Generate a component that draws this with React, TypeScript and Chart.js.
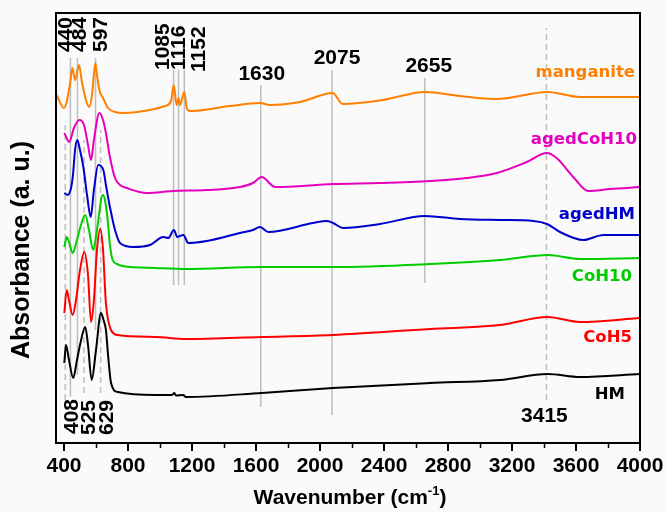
import React, { useEffect, useRef } from 'react';
import { Chart, registerables } from 'chart.js';

Chart.register(...registerables);

// ---------- axis ----------
const X_MIN = 350;
const X_MAX = 4000;
const X_MAJOR_TICKS = [400, 800, 1200, 1600, 2000, 2400, 2800, 3200, 3600, 4000];
const X_MINOR_TICKS = [600, 1000, 1400, 1800, 2200, 2600, 3000, 3400, 3800];
const Y_MIN = 0;
const Y_MAX = 430;

// ---------- spectra (wavenumber, stacked absorbance in arbitrary units) ----------
const manganiteWn = [354, 400, 437, 452, 469, 494, 512, 537, 558, 575, 596, 606, 621, 644, 675, 719, 769, 937, 1031, 1069, 1086, 1104, 1116, 1125, 1152, 1167, 1187, 1437, 1625, 1687, 1875, 2079, 2142, 2394, 2656, 2875, 3104, 3423, 3625, 4000];
const manganiteAbs = [348, 335, 358, 375, 363, 378, 361, 343, 336, 348, 380, 368, 353, 345, 335, 331, 330, 333, 337, 342, 358, 338, 345, 338, 351, 335, 332, 337, 340, 338, 341, 350, 339, 343, 351, 347, 344, 351, 346, 346];

const agedCoH10Wn = [402, 433, 462, 496, 525, 550, 569, 587, 621, 644, 662, 687, 719, 750, 792, 917, 1081, 1292, 1500, 1581, 1636, 1719, 2081, 2375, 2687, 2917, 3104, 3292, 3417, 3479, 3583, 3677, 3812, 4000];
const agedCoH10Abs = [310, 301, 315, 323, 318, 298, 283, 303, 330, 323, 310, 286, 265, 258, 255, 250, 252, 253, 256, 260, 266, 256, 259, 260, 262, 265, 270, 281, 290, 285, 266, 252, 254, 256];

const agedHMWn = [402, 423, 444, 456, 469, 483, 500, 521, 544, 567, 587, 614, 646, 662, 687, 719, 750, 833, 937, 1021, 1052, 1087, 1108, 1125, 1146, 1177, 1292, 1500, 1581, 1625, 1677, 1956, 2042, 2081, 2146, 2375, 2656, 2875, 3125, 3333, 3419, 3500, 3646, 3771, 4000];
const agedHMAbs = [250, 248, 255, 268, 293, 303, 293, 276, 248, 226, 253, 278, 273, 258, 236, 213, 200, 196, 198, 206, 205, 213, 206, 207, 208, 200, 202, 210, 213, 216, 211, 220, 222, 220, 215, 219, 227, 224, 223, 222, 219, 211, 203, 208, 208];

const coH10Wn = [402, 417, 431, 454, 481, 506, 533, 556, 583, 606, 642, 656, 673, 687, 704, 731, 767, 975, 1162, 1636, 2083, 2687, 3125, 3423, 3625, 4000];
const coH10Abs = [196, 206, 201, 190, 203, 218, 228, 213, 193, 213, 248, 243, 223, 198, 183, 179, 177, 175, 174, 176, 176, 179, 183, 188, 184, 185];

const coH5Wn = [402, 417, 431, 454, 475, 500, 527, 550, 569, 587, 606, 627, 644, 662, 694, 736, 975, 1162, 1636, 2081, 2687, 3125, 3423, 3625, 4000];
const coH5Abs = [130, 153, 143, 128, 143, 173, 191, 168, 121, 143, 193, 214, 193, 140, 113, 108, 106, 104, 106, 108, 114, 118, 126, 121, 125];

const hmWn = [402, 412, 429, 458, 479, 500, 533, 550, 573, 600, 631, 647, 662, 678, 694, 736, 975, 1075, 1089, 1100, 1144, 1162, 1636, 2081, 2687, 3125, 3423, 3625, 4000];
const hmAbs = [80, 98, 85, 65, 81, 98, 116, 98, 63, 93, 130, 123, 113, 83, 60, 51, 48, 48, 50, 47.5, 48, 46, 50, 55, 60, 63, 69, 66, 69];

const SERIES_NAMES = ['manganite', 'agedCoH10', 'agedHM', 'CoH10', 'CoH5', 'HM'];
const SERIES_WN = [manganiteWn, agedCoH10Wn, agedHMWn, coH10Wn, coH5Wn, hmWn];
const SERIES_ABS = [manganiteAbs, agedCoH10Abs, agedHMAbs, coH10Abs, coH5Abs, hmAbs];
const SERIES_COLORS = ['rgb(255,128,0)', 'rgb(230,0,190)', 'rgb(0,0,205)', 'rgb(0,204,0)', 'rgb(255,0,0)', 'rgb(0,0,0)'];

// ---------- band markers ----------
const SOLID_BANDS = [440, 484, 597, 1085, 1116, 1152, 1630, 2075, 2655];
const SOLID_BAND_TOP = [385, 385, 385, 373, 373, 373, 358, 373, 365];
const SOLID_BAND_BOTTOM = [46, 68, 113, 158, 158, 158, 36, 28, 160];
const DASHED_BANDS = [408, 525, 629, 3415];
const DASHED_BAND_TOP = [318, 303, 313, 415];
const DASHED_BAND_BOTTOM = [43, 50, 50, 43];

// label layout: [band, dx(px), yCenter or yBottom(px), rotated]
const BAND_LABEL_LAYOUT: [number, number, number, boolean][] = [
  [440, -5, 52, true],
  [484, 2, 52, true],
  [597, 5, 52, true],
  [1085, -11, 70, true],
  [1116, 0, 70, true],
  [1152, 14, 72, true],
  [1630, 1, 74, false],
  [2075, 5, 58, false],
  [2655, 4, 66, false],
  [408, 6, 434, true],
  [525, 4, 435, true],
  [629, 6, 435, true],
  [3415, -2, 416, false],
];

// series label layout: [right x px, y center px]
const SERIES_LABEL_LAYOUT: [number, number][] = [
  [635, 73], [637, 140], [635, 215], [632, 277], [632, 338], [625, 395],
];

const BG = '#fafafa';

const overlay = {
  id: 'overlay',
  beforeDraw(chart: any) {
    const { ctx, width, height } = chart;
    ctx.save();
    ctx.fillStyle = BG;
    ctx.fillRect(0, 0, width, height);
    ctx.restore();
  },
  afterDraw(chart: any) {
    const { ctx, chartArea: a, scales } = chart;
    const x = scales.x;
    ctx.save();
    // frame
    ctx.strokeStyle = '#000';
    ctx.lineWidth = 2;
    ctx.strokeRect(a.left, a.top, a.right - a.left, a.bottom - a.top);
    // minor ticks
    ctx.lineWidth = 1.5;
    for (const v of X_MINOR_TICKS) {
      const px = Math.round(x.getPixelForValue(v)) + 0.5;
      ctx.beginPath();
      ctx.moveTo(px, a.bottom);
      ctx.lineTo(px, a.bottom + 5);
      ctx.stroke();
    }
    // band labels
    ctx.fillStyle = '#000';
    ctx.font = 'bold 21px "Liberation Sans", Arial, sans-serif';
    for (const [band, dx, yy, rot] of BAND_LABEL_LAYOUT) {
      const px = x.getPixelForValue(band) + dx;
      const text = String(band);
      if (rot) {
        ctx.save();
        ctx.translate(px, yy);
        ctx.rotate(-Math.PI / 2);
        ctx.textAlign = 'left';
        ctx.textBaseline = 'middle';
        ctx.fillText(text, 0, 1);
        ctx.restore();
      } else {
        ctx.textAlign = 'center';
        ctx.textBaseline = 'middle';
        ctx.fillText(text, px, yy);
      }
    }
    // series labels
    ctx.font = 'bold 16.5px "DejaVu Sans", sans-serif';
    ctx.textAlign = 'right';
    ctx.textBaseline = 'middle';
    SERIES_NAMES.forEach((name, i) => {
      const [rx, cy] = SERIES_LABEL_LAYOUT[i];
      ctx.fillStyle = SERIES_COLORS[i];
      ctx.fillText(name, rx, cy);
    });
    // axis titles
    ctx.fillStyle = '#000';
    ctx.font = 'bold 21px "Liberation Sans", Arial, sans-serif';
    ctx.textBaseline = 'alphabetic';
    const main = 'Wavenumber (cm';
    const sup = '-1';
    const close = ')';
    const wMain = ctx.measureText(main).width;
    const wClose = ctx.measureText(close).width;
    ctx.font = 'bold 13px "Liberation Sans", Arial, sans-serif';
    const wSup = ctx.measureText(sup).width;
    const total = wMain + wSup + wClose;
    const cx = (a.left + a.right) / 2 + 2;
    let sx = cx - total / 2;
    const base = 504;
    ctx.textAlign = 'left';
    ctx.font = 'bold 21px "Liberation Sans", Arial, sans-serif';
    ctx.fillText(main, sx, base);
    sx += wMain;
    ctx.font = 'bold 13px "Liberation Sans", Arial, sans-serif';
    ctx.fillText(sup, sx, base - 9);
    sx += wSup;
    ctx.font = 'bold 21px "Liberation Sans", Arial, sans-serif';
    ctx.fillText(close, sx, base);

    ctx.save();
    ctx.translate(22, 250);
    ctx.rotate(-Math.PI / 2);
    ctx.textAlign = 'center';
    ctx.textBaseline = 'middle';
    ctx.font = 'bold 25px "Liberation Sans", Arial, sans-serif';
    ctx.fillText('Absorbance (a. u.)', 0, 0);
    ctx.restore();
    ctx.restore();
  },
};

export default function App() {
  const ref = useRef<HTMLCanvasElement | null>(null);
  useEffect(() => {
    if (!ref.current) return;
    const bandSets: any[] = [];
    SOLID_BANDS.forEach((b, i) => {
      bandSets.push({
        data: [{ x: b, y: SOLID_BAND_BOTTOM[i] }, { x: b, y: SOLID_BAND_TOP[i] }],
        borderColor: 'rgb(190,190,190)',
        borderWidth: 1.5,
        pointRadius: 0,
        order: 10,
      });
    });
    DASHED_BANDS.forEach((b, i) => {
      bandSets.push({
        data: [{ x: b, y: DASHED_BAND_BOTTOM[i] }, { x: b, y: DASHED_BAND_TOP[i] }],
        borderColor: 'rgb(190,190,190)',
        borderWidth: 1.5,
        borderDash: [6, 4],
        pointRadius: 0,
        order: 10,
      });
    });
    const seriesSets = SERIES_NAMES.map((name, i) => ({
      label: name,
      data: SERIES_WN[i].map((w, j) => ({ x: w, y: SERIES_ABS[i][j] })),
      borderColor: SERIES_COLORS[i],
      borderWidth: 2,
      pointRadius: 0,
      cubicInterpolationMode: 'monotone',
      order: 1,
    }));
    const chart = new Chart(ref.current, {
      type: 'line',
      data: { datasets: [...seriesSets, ...bandSets] as any },
      options: {
        responsive: false,
        animation: false,
        parsing: false as any,
        layout: { padding: { left: 56, right: 27, top: 13, bottom: 0 } },
        plugins: { legend: { display: false }, tooltip: { enabled: false } },
        scales: {
          x: {
            type: 'linear',
            min: X_MIN,
            max: X_MAX,
            afterBuildTicks: (s: any) => {
              s.ticks = X_MAJOR_TICKS.map((v) => ({ value: v }));
            },
            afterFit: (s: any) => {
              s.height = 69;
            },
            border: { display: false },
            grid: {
              display: true,
              drawOnChartArea: false,
              drawTicks: true,
              tickLength: 8,
              color: '#000',
              lineWidth: 2,
            },
            ticks: {
              autoSkip: false,
              maxRotation: 0,
              padding: 3,
              color: '#000',
              font: { family: '"Liberation Sans", Arial, sans-serif', size: 21, weight: 'bold' },
              callback: (v: any) => String(v),
            },
          },
          y: { type: 'linear', display: false, min: Y_MIN, max: Y_MAX },
        },
      },
      plugins: [overlay],
    });
    return () => chart.destroy();
  }, []);
  return (
    <div style={{ position: 'absolute', left: 0, top: 0, width: 667, height: 512 }}>
      <canvas ref={ref} width={667} height={512} style={{ display: 'block' }} />
    </div>
  );
}
